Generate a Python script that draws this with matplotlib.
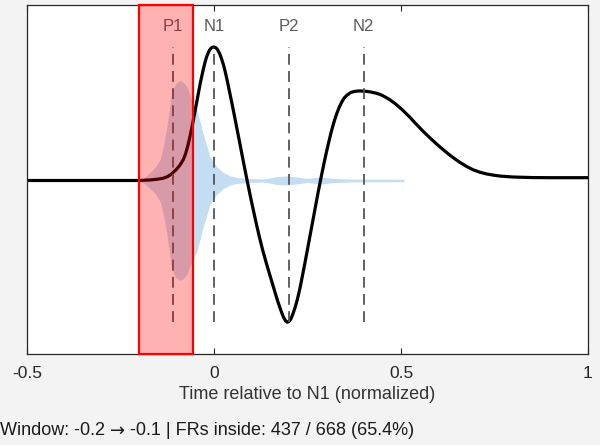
import numpy as np
import matplotlib.pyplot as plt
from matplotlib.patches import Rectangle

plt.rcParams['font.family'] = ['Liberation Sans', 'DejaVu Sans']

# mean waveform (time relative to N1, normalized amplitude)
wave_t = [-0.5, -0.3, -0.2, -0.171, -0.15, -0.136, -0.125, -0.118, -0.11, -0.1,
          -0.091, -0.082, -0.076, -0.07, -0.065, -0.06, -0.054, -0.048, -0.042, -0.037,
          -0.032, -0.028, -0.024, -0.02, -0.015, -0.01, -0.005, 0.0, 0.005, 0.01,
          0.016, 0.021, 0.026, 0.03, 0.036, 0.043, 0.05, 0.056, 0.063, 0.07,
          0.08, 0.09, 0.1, 0.107, 0.114, 0.122, 0.13, 0.14, 0.15, 0.158,
          0.165, 0.171, 0.176, 0.181, 0.186, 0.191, 0.196, 0.201, 0.206, 0.211,
          0.217, 0.223, 0.23, 0.236, 0.243, 0.249, 0.255, 0.26, 0.266, 0.272,
          0.278, 0.284, 0.289, 0.295, 0.3, 0.307, 0.314, 0.321, 0.328, 0.335,
          0.342, 0.348, 0.355, 0.366, 0.377, 0.388, 0.399, 0.41, 0.421, 0.432,
          0.444, 0.457, 0.47, 0.484, 0.497, 0.51, 0.524, 0.537, 0.551, 0.564,
          0.578, 0.591, 0.604, 0.618, 0.631, 0.645, 0.658, 0.676, 0.693, 0.711,
          0.729, 0.747, 0.765, 0.8, 0.85, 0.9, 1.0]
wave_y = [0.0, 0.0, 0.0, 0.004, 0.01, 0.017, 0.028, 0.04, 0.058, 0.085,
          0.115, 0.157, 0.2, 0.26, 0.32, 0.385, 0.47, 0.56, 0.65, 0.725,
          0.79, 0.84, 0.885, 0.925, 0.96, 0.985, 0.998, 1.0, 0.995, 0.978,
          0.945, 0.905, 0.86, 0.815, 0.74, 0.645, 0.55, 0.465, 0.365, 0.265,
          0.12, -0.02, -0.155, -0.245, -0.335, -0.43, -0.52, -0.62, -0.715, -0.79,
          -0.855, -0.91, -0.95, -0.99, -1.025, -1.05, -1.062, -1.055, -1.035, -1.0,
          -0.95, -0.89, -0.805, -0.72, -0.62, -0.53, -0.44, -0.365, -0.275, -0.185,
          -0.095, -0.01, 0.06, 0.14, 0.205, 0.29, 0.37, 0.44, 0.5, 0.55,
          0.59, 0.618, 0.638, 0.66, 0.668, 0.671, 0.67, 0.667, 0.662, 0.655,
          0.645, 0.627, 0.605, 0.577, 0.546, 0.512, 0.473, 0.433, 0.392, 0.355,
          0.318, 0.284, 0.252, 0.219, 0.189, 0.16, 0.135, 0.104, 0.08, 0.062,
          0.049, 0.04, 0.033, 0.026, 0.022, 0.021, 0.021]

# FR latency density (half-width around the baseline)
dens_t = [-0.198, -0.185, -0.171, -0.157, -0.144, -0.135, -0.126, -0.113, -0.102, -0.091,
          -0.082, -0.073, -0.059, -0.046, -0.029, -0.011, 0.007, 0.025, 0.043, 0.061,
          0.096, 0.131, 0.15, 0.168, 0.198, 0.23, 0.249, 0.27, 0.289, 0.305, 0.324,
          0.364, 0.444, 0.508]
dens_w = [0.004, 0.025, 0.06, 0.1, 0.157, 0.26, 0.40, 0.66, 0.727, 0.749,
          0.735, 0.704, 0.607, 0.532, 0.352, 0.18, 0.105, 0.06, 0.035, 0.022,
          0.015, 0.011, 0.02, 0.03, 0.034, 0.022, 0.015, 0.022, 0.026, 0.02, 0.015,
          0.011, 0.01, 0.009]

peak_names = ['P1', 'N1', 'P2', 'N2']
peak_t = [-0.11, 0.0, 0.2, 0.4]

win = [-0.2, -0.057]
n_inside = 437
n_total = 668

fig = plt.figure(figsize=(6, 4.45), dpi=100, facecolor='#f3f3f3')
ax = fig.add_axes([0.045, 0.2045, 0.935, 0.7843])
ax.set_facecolor('white')

dens_t = np.array(dens_t)
dens_w = np.array(dens_w)
ax.fill_between(dens_t, -dens_w, dens_w, color='#c5ddf2', lw=0, zorder=1)

ax.plot(wave_t, wave_y, color='black', lw=2.3, solid_joinstyle='round',
        solid_capstyle='round', zorder=2)

ymax = max(wave_y)
ymin = min(wave_y)
for name, t in zip(peak_names, peak_t):
    ax.plot([t, t], [ymin, ymax], color='#555555', lw=1.3, dashes=(6, 3.5), zorder=3)
    ax.text(t, 1.155, name, ha='center', va='center', fontsize=12, color='#5a5a5a')

ax.add_patch(Rectangle((win[0], -1.30), win[1] - win[0], 2.615, facecolor=(1, 0, 0, 0.3),
                       edgecolor='red', lw=1.6, zorder=4, clip_on=False))

ax.set_xlim(-0.5, 1)
ax.set_ylim(-1.30, 1.315)
ax.set_xticks([-0.5, 0, 0.5, 1])
ax.set_xticklabels(['-0.5', '0', '0.5', '1'])
ax.set_yticks([])
ax.tick_params(axis='x', direction='in', top=True, length=4, width=0.8, colors='#262626',
               labelsize=12.5, pad=9)
for s in ax.spines.values():
    s.set_color('#262626')
    s.set_linewidth(0.9)
ax.set_xlabel('Time relative to N1 (normalized)', fontsize=13, color='#333333', labelpad=3)

# status line, arrow drawn with DejaVu Sans for a longer glyph
parts = ['Window: %.1f ' % win[0], '\u2192', ' %.1f | FRs inside: %d / %d (%.1f%%)'
         % (win[1], n_inside, n_total, 100 * n_inside / n_total)]
fams = [['Liberation Sans'], ['DejaVu Sans'], ['Liberation Sans']]
fig.canvas.draw()
r = fig.canvas.get_renderer()
x0 = 0.0
for p, f in zip(parts, fams):
    t = fig.text(x0, 0.032, p, fontsize=13, color='#1a1a1a', ha='left', va='center', family=f)
    bb = t.get_window_extent(renderer=r)
    x0 += bb.width / fig.bbox.width

fig.savefig('out.png', dpi=100, facecolor=fig.get_facecolor())
